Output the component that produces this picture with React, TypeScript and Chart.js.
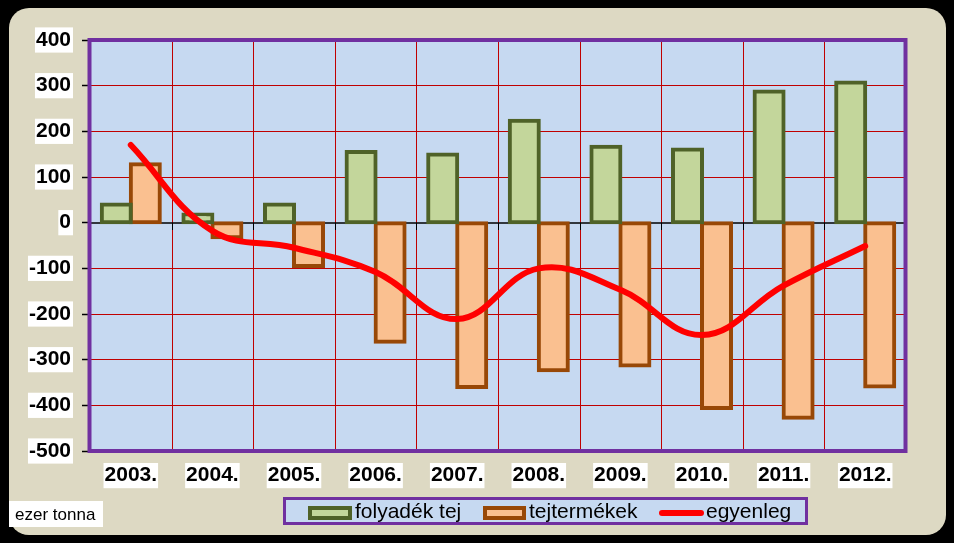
import React, { useEffect, useRef } from 'react';
import { Chart, registerables } from 'chart.js';

Chart.register(...registerables);

const categories = ['2003.', '2004.', '2005.', '2006.', '2007.', '2008.', '2009.', '2010.', '2011.', '2012.'];
const folyadekTej = [40, 18, 40, 155, 149, 223, 166, 160, 287, 307];
const tejtermekek = [128, -32, -95, -261, -360, -323, -313, -406, -427, -359];
const egyenleg = [170, -18, -55, -108, -211, -100, -147, -246, -138, -51];
const seriesLabels = ['folyadék tej', 'tejtermékek', 'egyenleg'];
const yMin = -500;
const yMax = 400;
const yStep = 100;
const unitLabel = 'ezer tonna';

const FONT = '"Liberation Sans", Arial, sans-serif';
const GREEN_FILL = '#c3d69b';
const GREEN_BORDER = '#4f6228';
const ORANGE_FILL = '#fac090';
const ORANGE_BORDER = '#984807';
const LINE_RED = '#ff0000';
const PURPLE = '#7030a0';
const PLOT_BG = '#c6d9f1';
const PANEL = '#ddd9c3';
const GRID_RED = '#c00000';

const decorPlugin = {
  id: 'decor',
  beforeDraw(chart: any) {
    const { ctx, width, height, chartArea } = chart;
    ctx.save();
    ctx.fillStyle = '#000';
    ctx.fillRect(0, 0, width, height);
    ctx.fillStyle = PANEL;
    ctx.beginPath();
    (ctx as any).roundRect(9, 8, 937, 527, 20);
    ctx.fill();
    ctx.fillStyle = PLOT_BG;
    ctx.fillRect(chartArea.left, chartArea.top, chartArea.right - chartArea.left, chartArea.bottom - chartArea.top);
    ctx.restore();
  },
  beforeDatasetsDraw(chart: any) {
    const { ctx, chartArea, scales } = chart;
    const y0 = Math.round(scales.y.getPixelForValue(0));
    const n = categories.length;
    const cw = (chartArea.right - chartArea.left) / n;
    ctx.save();
    // vertical grid lines between categories
    ctx.strokeStyle = GRID_RED;
    ctx.lineWidth = 1;
    ctx.beginPath();
    for (let i = 1; i < n; i++) {
      const x = Math.round(chartArea.left + i * cw) + 0.5;
      ctx.moveTo(x, chartArea.top);
      ctx.lineTo(x, chartArea.bottom);
    }
    ctx.stroke();
    // zero axis line + tick marks
    ctx.strokeStyle = '#000';
    ctx.lineWidth = 1.5;
    ctx.beginPath();
    ctx.moveTo(chartArea.left, y0);
    ctx.lineTo(chartArea.right, y0);
    ctx.stroke();
    ctx.lineWidth = 1;
    ctx.beginPath();
    for (let i = 1; i <= n; i++) {
      const x = Math.round(chartArea.left + i * cw) + 0.5;
      ctx.moveTo(x, y0);
      ctx.lineTo(x, y0 + 7);
    }
    ctx.stroke();
    ctx.restore();
  },
  afterDraw(chart: any) {
    const { ctx, chartArea } = chart;
    ctx.save();
    // plot border
    ctx.strokeStyle = PURPLE;
    ctx.lineWidth = 4;
    ctx.strokeRect(chartArea.left - 0.5, chartArea.top, chartArea.right - chartArea.left, chartArea.bottom - chartArea.top);

    // legend
    const lx = 283, ly = 497, lw = 525, lh = 28;
    ctx.fillStyle = PLOT_BG;
    ctx.fillRect(lx, ly, lw, lh);
    ctx.strokeStyle = PURPLE;
    ctx.lineWidth = 3;
    ctx.strokeRect(lx + 1.5, ly + 1.5, lw - 3, lh - 3);

    const sy = 508, sh = 10;
    ctx.lineWidth = 4;
    ctx.fillStyle = GREEN_FILL;
    ctx.fillRect(310, sy, 40, sh);
    ctx.strokeStyle = GREEN_BORDER;
    ctx.strokeRect(310, sy, 40, sh);
    ctx.fillStyle = ORANGE_FILL;
    ctx.fillRect(485, sy, 39, sh);
    ctx.strokeStyle = ORANGE_BORDER;
    ctx.strokeRect(485, sy, 39, sh);
    ctx.strokeStyle = LINE_RED;
    ctx.lineWidth = 6;
    ctx.lineCap = 'round';
    ctx.beginPath();
    ctx.moveTo(662, 513);
    ctx.lineTo(701, 513);
    ctx.stroke();

    ctx.fillStyle = '#000';
    ctx.font = `21px ${FONT}`;
    ctx.textBaseline = 'middle';
    ctx.textAlign = 'left';
    ctx.fillText(seriesLabels[0], 355, 512);
    ctx.fillText(seriesLabels[1], 529, 512);
    ctx.fillText(seriesLabels[2], 706, 512);

    // unit label
    ctx.fillStyle = '#fff';
    ctx.fillRect(9, 501, 94, 26);
    ctx.fillStyle = '#000';
    ctx.font = `17px ${FONT}`;
    ctx.fillText(unitLabel, 15, 515);
    ctx.restore();
  },
};

export default function App() {
  const ref = useRef<HTMLCanvasElement>(null);

  useEffect(() => {
    if (!ref.current) return;
    const chart = new Chart(ref.current, {
      type: 'bar',
      data: {
        labels: categories,
        datasets: [
          {
            type: 'line',
            label: seriesLabels[2],
            data: egyenleg,
            borderColor: LINE_RED,
            backgroundColor: LINE_RED,
            borderWidth: 6,
            pointRadius: 0,
            tension: 0.4,
            borderCapStyle: 'round',
            borderJoinStyle: 'round',
            fill: false,
            order: 0,
          } as any,
          {
            type: 'bar',
            label: seriesLabels[0],
            data: folyadekTej,
            backgroundColor: GREEN_FILL,
            borderColor: GREEN_BORDER,
            borderWidth: 4,
            borderSkipped: false,
            inflateAmount: 2,
            categoryPercentage: 0.711,
            barPercentage: 1,
            order: 1,
          } as any,
          {
            type: 'bar',
            label: seriesLabels[1],
            data: tejtermekek,
            backgroundColor: ORANGE_FILL,
            borderColor: ORANGE_BORDER,
            borderWidth: 4,
            borderSkipped: false,
            inflateAmount: 2,
            categoryPercentage: 0.711,
            barPercentage: 1,
            order: 2,
          } as any,
        ],
      },
      options: {
        animation: false,
        responsive: false,
        maintainAspectRatio: false,
        layout: { padding: { left: 0, top: 40, right: 48, bottom: 0 } },
        plugins: {
          legend: { display: false },
          tooltip: { enabled: false },
        },
        scales: {
          x: {
            offset: true,
            grid: { display: false, drawTicks: false },
            border: { display: false },
            ticks: {
              color: '#000',
              font: { family: FONT, size: 21, weight: 'bold' },
              padding: 12,
              showLabelBackdrop: true,
              backdropColor: '#fff',
              backdropPadding: { left: 1, right: 1, top: 0, bottom: 0 },
              maxRotation: 0,
            },
            afterFit(scale: any) {
              scale.height = 92;
            },
          },
          y: {
            min: yMin,
            max: yMax,
            grid: {
              color: (c: any) => (c.tick && c.tick.value === 0 ? 'rgba(0,0,0,0)' : GRID_RED),
              lineWidth: 1,
              drawTicks: true,
              tickLength: 8,
              tickColor: '#000',
              tickWidth: 1.5,
            },
            border: { display: false },
            ticks: {
              stepSize: yStep,
              color: '#000',
              font: { family: FONT, size: 21, weight: 'bold' },
              padding: 11,
              showLabelBackdrop: true,
              backdropColor: '#fff',
              backdropPadding: { left: 1, right: 2, top: 0, bottom: 0 },
              callback: (v: any) => String(v),
            },
            afterFit(scale: any) {
              scale.width = 90;
            },
          },
        },
      } as any,
      plugins: [decorPlugin],
    });
    return () => chart.destroy();
  }, []);

  return (
    <div style={{ position: 'fixed', left: 0, top: 0, width: 954, height: 543, background: '#000' }}>
      <canvas ref={ref} width={954} height={543} style={{ display: 'block', width: 954, height: 543 }} />
    </div>
  );
}
